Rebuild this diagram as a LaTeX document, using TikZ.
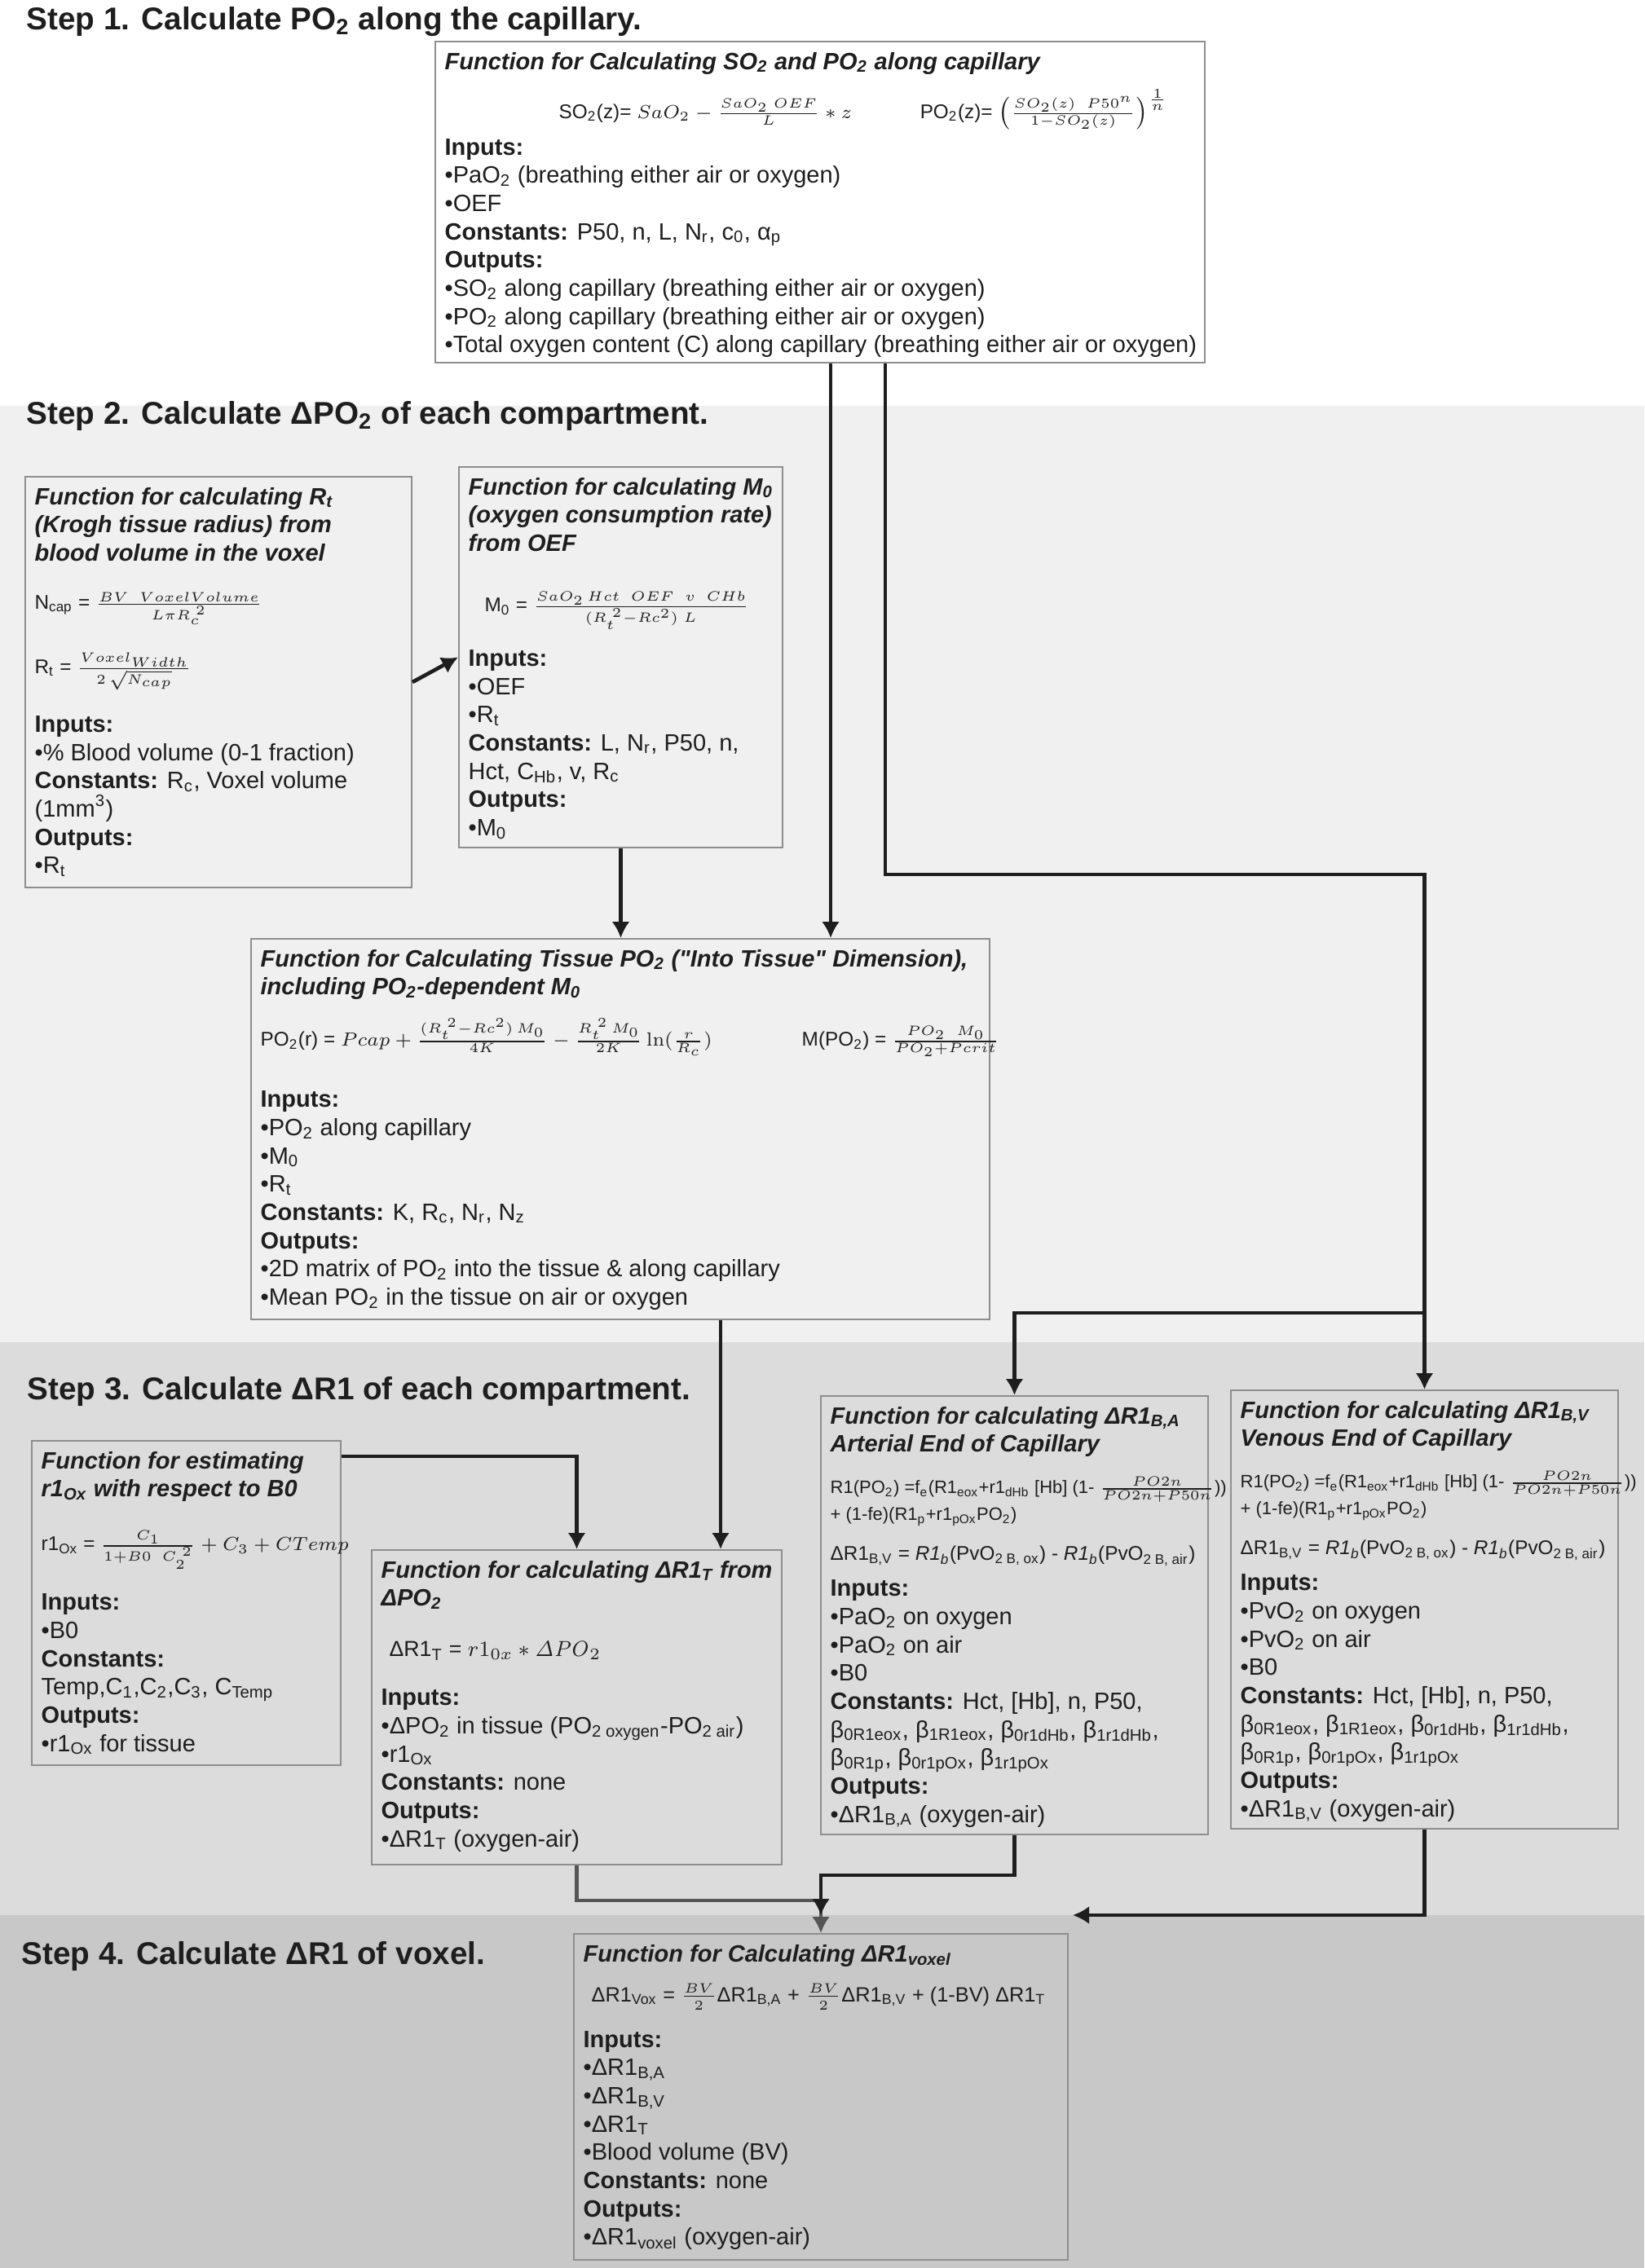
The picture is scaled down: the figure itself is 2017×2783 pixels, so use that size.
\documentclass[tikz,border=0pt]{standalone}
\usepackage[no-math]{fontspec}
\setmainfont{Liberation Sans}[Ligatures=TeXOff]
\setsansfont{Liberation Sans}[Ligatures=TeXOff]
\usetikzlibrary{arrows.meta}

\definecolor{bandtwo}{HTML}{F0F0F0}
\definecolor{bandthree}{HTML}{DCDCDC}
\definecolor{bandfour}{HTML}{C8C8C8}
\definecolor{boxline}{HTML}{8E8E8E}
\definecolor{ink}{HTML}{1E1E1E}
\definecolor{linegray}{HTML}{555555}

\newcommand{\lo}[1]{\textsubscript{#1}}
\newcommand{\hi}[1]{\textsuperscript{#1}}
\newcommand{\fnhead}[1]{\textbf{\textit{#1}}}
\newcommand{\eqfont}{\fontsize{7.3}{8.5}\selectfont}
\newcommand{\rfont}{\fontsize{6.6}{8}\selectfont}
\newcommand{\dfont}{\fontsize{7.3}{8.5}\selectfont}

\tikzstyle{fnbox} = [draw=boxline, line width=0.6pt, anchor=north west, inner sep=0pt]
\tikzstyle{fntext} = [anchor=north west, align=left, inner xsep=3.6pt, inner ysep=4pt, text=ink, font=\fontsize{8.7}{10.4}\selectfont]
\tikzstyle{steptitle} = [anchor=base west, inner sep=0pt, text=ink, font=\fontsize{11.6}{14}\selectfont\bfseries]
\tikzstyle{conn} = [-{Latex[length=6pt,width=6.6pt]}, line width=1.4pt, draw=ink]

\begin{document}
\begin{tikzpicture}[x=0.3pt, y=-0.3pt]
		\useasboundingbox (0,0) rectangle (2017,2783);
		\fill[white] (0,0) rectangle (2017,498);
		\fill[bandtwo] (0,498) rectangle (2017,1647);
		\fill[bandthree] (0,1647) rectangle (2017,2350);
		\fill[bandfour] (0,2350) rectangle (2017,2783);

		\node [steptitle] at (32,36) (s1) {Step 1. Calculate PO\lo{2} along the capillary.};
		\node [steptitle] at (32,520) (s2) {Step 2. Calculate ΔPO\lo{2} of each compartment.};
		\node [steptitle] at (33,1717) (s3) {Step 3. Calculate ΔR1 of each compartment.};
		\node [steptitle] at (26,2410) (s4) {Step 4. Calculate ΔR1 of voxel.};

		\node [fnbox, fill=white, minimum width=283.2pt, minimum height=118.2pt] at (533,50) (so2) {};
		\node [fntext] at (so2.north west) (so2txt) {\fnhead{Function for Calculating SO\lo{2} and PO\lo{2} along capillary}\\[7.6pt]
			\hspace*{42pt}\smash{\eqfont SO\lo{2}(z)= $SaO_2-\frac{SaO_2\ OEF}{L}*z$\hspace{25pt}PO\lo{2}(z)= $\left(\frac{SO_2(z)\ \ P50^n}{1-SO_2(z)}\right)^{\frac{1}{n}}$}\\[3.1pt]
			\textbf{Inputs:}\\
			•PaO\lo{2} (breathing either air or oxygen)\\
			•OEF\\
			\textbf{Constants:} P50, n, L, N\lo{r}, c\lo{0}, α\lo{p}\\
			\textbf{Outputs:}\\
			•SO\lo{2} along capillary (breathing either air or oxygen)\\
			•PO\lo{2} along capillary (breathing either air or oxygen)\\
			•Total oxygen content (C) along capillary (breathing either air or oxygen)};

		\node [fnbox, fill=bandtwo, minimum width=142.2pt, minimum height=151.2pt] at (30,584) (rt) {};
		\node [fntext] at (rt.north west) (rttxt) {\fnhead{Function for calculating R\lo{t}}\\
			\fnhead{(Krogh tissue radius) from}\\
			\fnhead{blood volume in the voxel}\\[7.3pt]
			\smash{\eqfont N\lo{cap} = $\frac{BV\ \ VoxelVolume}{L\pi R_c^{\;2}}$}\\[13.3pt]
			\smash{\eqfont R\lo{t} = $\frac{Voxel_{Width}}{2\,\sqrt{N_{cap}}}$}\\[11.2pt]
			\textbf{Inputs:}\\
			•\% Blood volume (0-1 fraction)\\
			\textbf{Constants:} R\lo{c}, Voxel volume\\
			(1mm\hi{3})\\
			\textbf{Outputs:}\\
			•R\lo{t}};

		\node [fnbox, fill=bandtwo, minimum width=119.1pt, minimum height=140.1pt] at (562,572) (m0) {};
		\node [fntext] at (m0.north west) (m0txt) {\fnhead{Function for calculating M\lo{0}}\\
			\fnhead{(oxygen consumption rate)}\\
			\fnhead{from OEF}\\[11.8pt]
			\hspace*{6pt}\smash{\eqfont M\lo{0} = $\frac{SaO_2\,Hct\ \ OEF\ \ v\ \ CHb}{(R_t^{\;2}-Rc^2)\ L}$}\\[9.7pt]
			\textbf{Inputs:}\\
			•OEF\\
			•R\lo{t}\\
			\textbf{Constants:} L, N\lo{r}, P50, n,\\
			Hct, C\lo{Hb}, v, R\lo{c}\\
			\textbf{Outputs:}\\
			•M\lo{0}};

		\node [fnbox, fill=bandtwo, minimum width=271.8pt, minimum height=140.1pt] at (307,1151) (tissue) {};
		\node [fntext] at (tissue.north west) (tissuetxt) {\fnhead{Function for Calculating Tissue PO\lo{2} ("Into Tissue" Dimension),}\\
			\fnhead{including PO\lo{2}-dependent M\lo{0}}\\[8.5pt]
			\smash{\eqfont PO\lo{2}(r) = $Pcap+\frac{(R_t^{\;2}-Rc^2)\,M_0}{4K}-\frac{R_t^{\;2}\,M_0}{2K}\ln(\frac{r}{R_c})$\hspace{33pt}M(PO\lo{2}) = $\frac{PO_2\ \ M_0}{PO_2+Pcrit}$}\\[12.1pt]
			\textbf{Inputs:}\\
			•PO\lo{2} along capillary\\
			•M\lo{0}\\
			•R\lo{t}\\
			\textbf{Constants:} K, R\lo{c}, N\lo{r}, N\lo{z}\\
			\textbf{Outputs:}\\
			•2D matrix of PO\lo{2} into the tissue \& along capillary\\
			•Mean PO\lo{2} in the tissue on air or oxygen};

		\node [fnbox, fill=bandthree, minimum width=113.7pt, minimum height=119.4pt] at (38,1767) (r1ox) {};
		\node [fntext] at (r1ox.north west) (r1oxtxt) {\fnhead{Function for estimating}\\
			\fnhead{r1\lo{Ox} with respect to B0}\\[9.4pt]
			\smash{\eqfont r1\lo{Ox} = $\frac{C_1}{1+B0\ \ C_2^{\;2}}+C_3+CTemp$}\\[11.5pt]
			\textbf{Inputs:}\\
			•B0\\
			\textbf{Constants:}\\
			Temp,C\lo{1},C\lo{2},C\lo{3}, C\lo{Temp}\\
			\textbf{Outputs:}\\
			•r1\lo{Ox} for tissue};

		\node [fnbox, fill=bandthree, minimum width=150.9pt, minimum height=115.8pt] at (455,1901) (dRT) {};
		\node [fntext] at (dRT.north west) (dRTtxt) {\fnhead{Function for calculating ΔR1\lo{T} from}\\
			\fnhead{ΔPO\lo{2}}\\[8.2pt]
			\hspace*{3pt}\smash{\fontsize{8}{9}\selectfont ΔR1\lo{T} = $r1_{0x}*\mathit{\Delta PO}_2$}\\[7.6pt]
			\textbf{Inputs:}\\
			•ΔPO\lo{2} in tissue (PO\lo{2 oxygen}-PO\lo{2 air})\\
			•r1\lo{Ox}\\
			\textbf{Constants:} none\\
			\textbf{Outputs:}\\
			•ΔR1\lo{T} (oxygen-air)};

		\node [fnbox, fill=bandthree, minimum width=142.5pt, minimum height=161.4pt] at (1006,1712) (arterial) {};
		\node [fntext] at (arterial.north west) (arterialtxt) {\fnhead{Function for calculating ΔR1\lo{B,A}}\\
			\fnhead{Arterial End of Capillary}\\[4.9pt]
			\smash{\rfont R1(PO\lo{2}) =f\lo{e}(R1\lo{eox}+r1\lo{dHb} [Hb] (1- $\frac{PO2n}{PO2n+P50n}$))}\\[-0.5pt]
			\smash{\rfont + (1-fe)(R1\lo{p}+r1\lo{pOx}PO\lo{2})}\\[4.3pt]
			{\dfont ΔR1\lo{B,V} = \textit{R1\lo{b}}(PvO\lo{2 B, ox}) - \textit{R1\lo{b}}(PvO\lo{2 B, air})}\\[2.8pt]
			\textbf{Inputs:}\\
			•PaO\lo{2} on oxygen\\
			•PaO\lo{2} on air\\
			•B0\\
			\textbf{Constants:} Hct, [Hb], n, P50,\\
			β\lo{0R1eox}, β\lo{1R1eox}, β\lo{0r1dHb}, β\lo{1r1dHb},\\
			β\lo{0R1p}, β\lo{0r1pOx}, β\lo{1r1pOx}\\
			\textbf{Outputs:}\\
			•ΔR1\lo{B,A} (oxygen-air)};

		\node [fnbox, fill=bandthree, minimum width=142.5pt, minimum height=161.4pt] at (1509,1705) (venous) {};
		\node [fntext] at (venous.north west) (venoustxt) {\fnhead{Function for calculating ΔR1\lo{B,V}}\\
			\fnhead{Venous End of Capillary}\\[4.9pt]
			\smash{\rfont R1(PO\lo{2}) =f\lo{e}(R1\lo{eox}+r1\lo{dHb} [Hb] (1- $\frac{PO2n}{PO2n+P50n}$))}\\[-0.5pt]
			\smash{\rfont + (1-fe)(R1\lo{p}+r1\lo{pOx}PO\lo{2})}\\[4.3pt]
			{\dfont ΔR1\lo{B,V} = \textit{R1\lo{b}}(PvO\lo{2 B, ox}) - \textit{R1\lo{b}}(PvO\lo{2 B, air})}\\[2.8pt]
			\textbf{Inputs:}\\
			•PvO\lo{2} on oxygen\\
			•PvO\lo{2} on air\\
			•B0\\
			\textbf{Constants:} Hct, [Hb], n, P50,\\
			β\lo{0R1eox}, β\lo{1R1eox}, β\lo{0r1dHb}, β\lo{1r1dHb},\\
			β\lo{0R1p}, β\lo{0r1pOx}, β\lo{1r1pOx}\\
			\textbf{Outputs:}\\
			•ΔR1\lo{B,V} (oxygen-air)};

		\node [fnbox, fill=bandfour, minimum width=181.8pt, minimum height=120pt] at (703,2372) (voxel) {};
		\node [fntext] at (voxel.north west) (voxeltxt) {\fnhead{Function for Calculating ΔR1\lo{voxel}}\\[4.3pt]
			\hspace*{3pt}\smash{\fontsize{7.6}{9}\selectfont ΔR1\lo{Vox} = $\frac{BV}{2}$ΔR1\lo{B,A} + $\frac{BV}{2}$ΔR1\lo{B,V} + (1-BV) ΔR1\lo{T}}\\[6.4pt]
			\textbf{Inputs:}\\
			•ΔR1\lo{B,A}\\
			•ΔR1\lo{B,V}\\
			•ΔR1\lo{T}\\
			•Blood volume (BV)\\
			\textbf{Constants:} none\\
			\textbf{Outputs:}\\
			•ΔR1\lo{voxel} (oxygen-air)};

		\draw [conn] (rt.east) -- (m0.west);
		\draw [conn] (m0.south) -- (m0.south |- tissue.north);
		\draw [conn] ([xshift=3.9pt]so2.south) -- ([xshift=3.9pt]so2.south |- tissue.north);
		\draw [conn] ([xshift=24pt]so2.south) -- ++(0,627) -| (venous.north);
		\draw [conn] ([yshift=28.2pt]venous.north) -| (arterial.north);
		\draw [conn] ([xshift=36.9pt]tissue.south) -- ([xshift=36.9pt]tissue.south |- dRT.north);
		\draw [conn] ([yshift=-6pt]r1ox.north east) -| (dRT.north);
		\draw [conn, draw=linegray] (dRT.south) -- ++(0,43) -| (voxel.north);
		\draw [conn] (arterial.south) -- ++(0,49) -| ([yshift=6.6pt]voxel.north);
		\draw [conn] (venous.south) |- ([xshift=1.5pt,yshift=6.6pt]voxel.north east);
	\end{tikzpicture}
\end{document}
